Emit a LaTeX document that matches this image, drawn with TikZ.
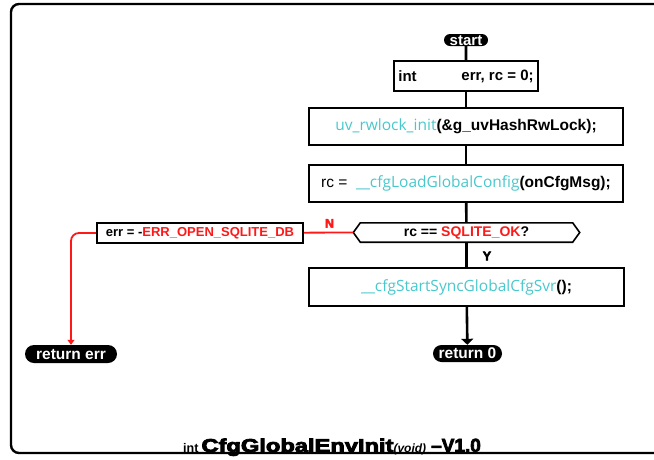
\documentclass[tikz,border=0pt]{standalone}
\usepackage{fontspec}
\setmainfont{Liberation Sans}
\newfontfamily\codefont{Open Sans}
\newfontfamily\heavyfont{Liberation Sans}[BoldFeatures={FakeBold=4}]
\usetikzlibrary{arrows.meta,calc,shapes.misc}
\definecolor{fncyan}{RGB}{72,200,204}
\definecolor{errred}{RGB}{255,24,24}

\newcommand{\fn}[1]{{\codefont\color{fncyan}#1}}
\newcommand{\kw}[1]{{\bfseries #1}}

\tikzset{
  stmt/.style={draw, line width=1.6pt, minimum width=314pt, minimum height=37pt,
    inner sep=0pt, font=\fontsize{15.5}{17}\selectfont},
  term/.style={rounded rectangle, fill=black, text=white, inner sep=0pt,
    text height=10.5pt, text depth=0pt,
    font=\bfseries\fontsize{15.5}{16}\selectfont},
  flow/.style={line width=2.6pt},
  redflow/.style={line width=1.8pt, errred},
  branch/.style={font=\heavyfont\bfseries\fontsize{12.5}{13}\selectfont, inner sep=0pt},
}

\begin{document}
\begin{tikzpicture}[x=1pt, y=-1pt]
  \useasboundingbox (0,0) rectangle (654,459);

  % outer frame, open on the right
  \draw[line width=2.4pt, rounded corners=8pt] (654,4) -- (11,4) -- (11,453) -- (654,453);

  % terminals
  \node[term, minimum width=44pt, minimum height=12pt, text height=10pt, font=\bfseries\fontsize{15}{15}\selectfont] (start) at (466,40) {start};
  \node[term, minimum width=69pt, minimum height=17pt] (ret0) at (467.5,353.5) {return 0};
  \node[term, minimum width=92pt, minimum height=18pt] (reterr) at (71,354) {return err};

  % statements
  \node[stmt, minimum width=144pt, minimum height=30pt] (decl) at (466,76) {};
  \node[anchor=west, inner sep=0pt, font=\bfseries\fontsize{15}{17}\selectfont] (declty) at ($(decl.west)+(5pt,0)$) {int};
  \node[anchor=east, inner sep=0pt, font=\bfseries\fontsize{15}{17}\selectfont] (declvar) at ($(decl.east)+(-5pt,0)$) {err, rc = 0;};

  \node[stmt] (lock) at (466,126.5) {\fn{uv\_rwlock\_init}\kw{(\&g\_uvHashRwLock);}};
  \node[stmt] (load) at (466,183.5) {rc = \ \fn{\_\_cfgLoadGlobalConfig}\kw{(onCfgMsg);}};

  % decision
  \node[minimum width=212pt, minimum height=19pt, inner sep=0pt,
        font=\bfseries\fontsize{14}{15}\selectfont] (dec) at (466.5,232.5)
        {rc == {\color{errred}SQLITE\_OK}?};
  \coordinate (decL) at ($(dec.west)+(-7pt,0)$);
  \coordinate (decR) at ($(dec.east)+(7pt,0)$);
  \draw[line width=1.6pt, line join=miter]
    (dec.north west) -- (dec.north east) -- (decR) -- (dec.south east)
    -- (dec.south west) -- (decL) -- cycle;

  \node[stmt, minimum width=315pt, minimum height=38pt] (sync) at (466.5,287) {\fn{\_\_cfgStartSyncGlobalCfgSvr}\kw{();}};

  \node[draw, line width=1.6pt, minimum width=206pt, minimum height=20pt, inner sep=0pt,
        font=\bfseries\fontsize{13}{14}\selectfont] (seterr) at (200,233)
        {err = -{\color{errred}ERR\_OPEN\_SQLITE\_DB}};

  % main flow
  \draw[flow] (start) -- (decl);
  \draw[flow] (decl) -- (lock);
  \draw[flow] (lock) -- (load);
  \draw[flow] (load) -- (dec);
  \draw[flow] (dec) -- node[branch, right=15pt, pos=0.55] (yes) {Y} (sync);
  \draw[flow, -{Triangle[width=12pt, length=6pt]}] (sync) -- (ret0);

  % error branch
  \draw[redflow] (decL) -- node[branch, errred, above=4pt, pos=0.48] (no) {N} (seterr);
  \draw[redflow, rounded corners=8pt, -{Triangle[width=7pt, length=5pt]}]
    (seterr.west) -| (reterr.north);

  % function signature
  \node[anchor=base west, inner sep=0pt] (sig) at (183,452)
    {{\bfseries\fontsize{12.5}{13}\selectfont int}\hspace{3pt}%
     \resizebox{192pt}{13.5pt}{\heavyfont\bfseries CfgGlobalEnvInit}%
     {\bfseries\itshape\fontsize{12}{13}\selectfont (void)}\hspace{5pt}%
     {\heavyfont\bfseries\fontsize{19}{20}\selectfont –V1.0}};
\end{tikzpicture}
\end{document}
